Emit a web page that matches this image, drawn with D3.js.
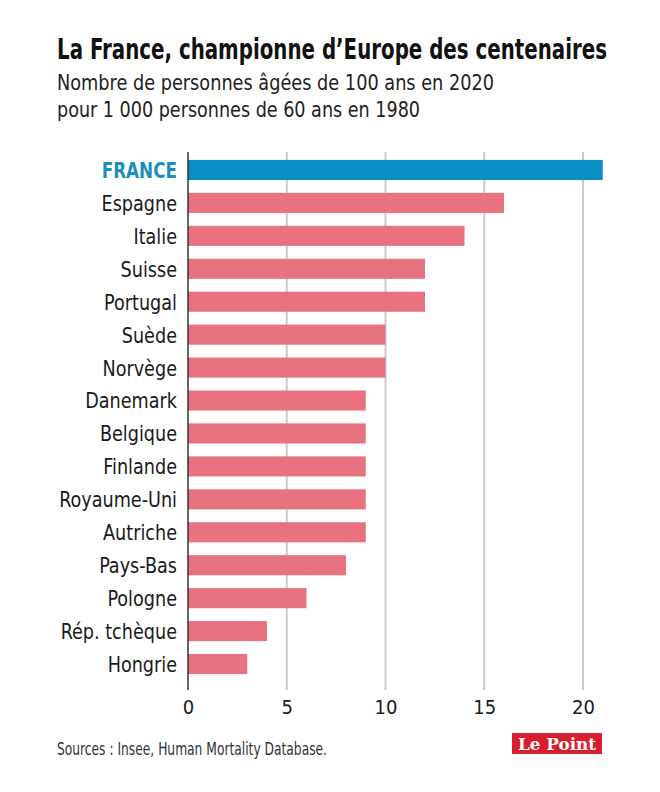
<!DOCTYPE html>
<html>
<head>
<meta charset="utf-8">
<script src="https://cdn.jsdelivr.net/npm/d3@7"></script>
<style>
  html, body { margin: 0; padding: 0; background: #fff; }
  svg { display: block; }
</style>
</head>
<body>
<svg id="chart" width="660" height="792"></svg>
<script>
const categories = ["FRANCE", "Espagne", "Italie", "Suisse", "Portugal", "Suède", "Norvège", "Danemark", "Belgique", "Finlande", "Royaume-Uni", "Autriche", "Pays-Bas", "Pologne", "Rép. tchèque", "Hongrie"];
const values = [21, 16, 14, 12, 12, 10, 10, 9, 9, 9, 9, 9, 8, 6, 4, 3];
const tickValues = [0, 5, 10, 15, 20];
const highlight = "FRANCE";

const FONT = "'Liberation Sans Narrow', 'DejaVu Sans Condensed', 'Liberation Sans', sans-serif";
const svg = d3.select("#chart");

// Titles
svg.append("g").attr("transform", "translate(57,59) scale(1,1.2)")
  .append("text").attr("x", 0).attr("y", 0).attr("font-family", FONT)
  .attr("font-weight", "bold").attr("font-size", 24).attr("fill", "#111")
  .attr("textLength", 550).attr("lengthAdjust", "spacingAndGlyphs")
  .text("La France, championne d\u2019Europe des centenaires");
svg.append("text").attr("x", 57).attr("y", 90).attr("font-family", FONT)
  .attr("font-size", 22).attr("fill", "#222")
  .attr("textLength", 437).attr("lengthAdjust", "spacingAndGlyphs")
  .text("Nombre de personnes âgées de 100 ans en 2020");
svg.append("text").attr("x", 57).attr("y", 117).attr("font-family", FONT)
  .attr("font-size", 22).attr("fill", "#222")
  .attr("textLength", 363).attr("lengthAdjust", "spacingAndGlyphs")
  .text("pour 1 000 personnes de 60 ans en 1980");

const x = d3.scaleLinear().domain([0, 20]).range([188, 583]);
const y = d3.scaleBand().domain(categories).range([153.5, 680.5])
  .paddingInner(0.39).paddingOuter(0.195);

const gridTop = 152, gridBottom = 690;

// Grid lines
svg.append("g").selectAll("line").data(tickValues.filter(d => d > 0)).join("line")
  .attr("x1", d => x(d)).attr("x2", d => x(d))
  .attr("y1", gridTop).attr("y2", gridBottom)
  .attr("stroke", "#cacaca").attr("stroke-width", 2);

// Bars
svg.append("g").selectAll("rect").data(categories).join("rect")
  .attr("x", x(0)).attr("y", d => y(d))
  .attr("width", (d, i) => x(values[i]) - x(0))
  .attr("height", y.bandwidth())
  .attr("fill", d => d === highlight ? "#0a8fc4" : "#e8727f");

// Zero axis line
svg.append("line").attr("x1", x(0)).attr("x2", x(0))
  .attr("y1", gridTop).attr("y2", gridBottom)
  .attr("stroke", "#333").attr("stroke-width", 1.5);

// Category labels
const labels = svg.append("g").selectAll("text").data(categories).join("text")
  .attr("x", 177).attr("y", d => y(d) + y.bandwidth() / 2)
  .attr("dy", "0.36em").attr("text-anchor", "end")
  .attr("font-family", FONT)
  .attr("font-size", d => d === highlight ? 21 : 22)
  .attr("font-weight", d => d === highlight ? "bold" : "normal")
  .attr("fill", d => d === highlight ? "#1a8fc0" : "#1a1a1a")
  .text(d => d);
labels.each(function() {
  const w = this.getComputedTextLength();
  d3.select(this).attr("textLength", w * 0.89).attr("lengthAdjust", "spacingAndGlyphs");
});

// X axis tick labels
const xAxis = d3.axisBottom(x).tickValues(tickValues).tickSize(0).tickPadding(0);
const gx = svg.append("g").attr("transform", `translate(0, 700)`).call(xAxis);
gx.select(".domain").remove();
gx.selectAll("text").attr("font-family", FONT).attr("font-size", 20)
  .attr("fill", "#1a1a1a").attr("dy", "0.71em");

// Sources
svg.append("text").attr("x", 57).attr("y", 755).attr("font-family", FONT)
  .attr("font-size", 17).attr("fill", "#333")
  .attr("textLength", 270).attr("lengthAdjust", "spacingAndGlyphs")
  .text("Sources : Insee, Human Mortality Database.");

// Logo
svg.append("rect").attr("x", 512).attr("y", 733).attr("width", 90).attr("height", 21)
  .attr("fill", "#d81e2c");
svg.append("text").attr("x", 557).attr("y", 750).attr("text-anchor", "middle")
  .attr("font-family", "'DejaVu Serif', 'Liberation Serif', serif")
  .attr("font-weight", "bold").attr("font-size", 17).attr("fill", "#fff")
  .attr("textLength", 78).attr("lengthAdjust", "spacingAndGlyphs")
  .text("Le Point");
</script>
</body>
</html>
